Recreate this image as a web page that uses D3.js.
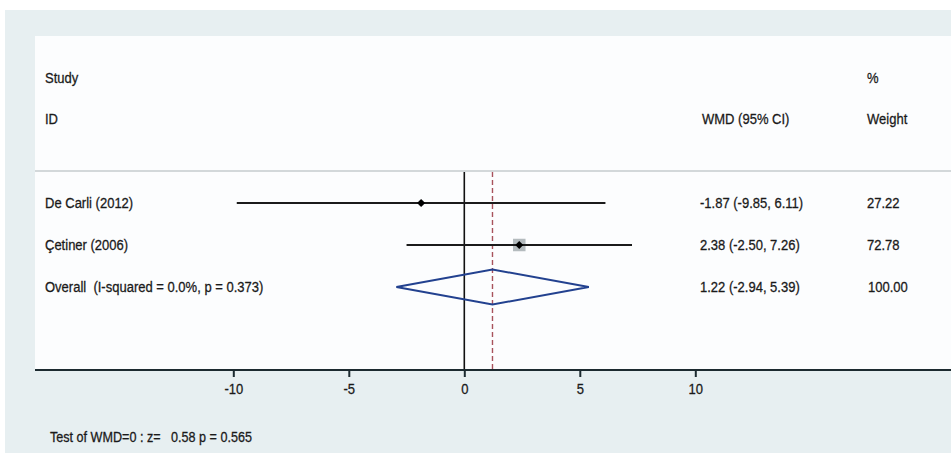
<!DOCTYPE html>
<html>
<head>
<meta charset="utf-8">
<script src="https://cdn.jsdelivr.net/npm/d3@7/dist/d3.min.js"></script>
<style>
  html, body { margin: 0; padding: 0; background: #ffffff; }
  svg { display: block; }
  text { font-family: "Liberation Sans", Arial, sans-serif; fill: #1a1a1a; stroke: #1a1a1a; stroke-width: 0.3px; white-space: pre; }
</style>
</head>
<body>
<svg id="chart" width="951" height="453"></svg>
<script>
// Studies in the meta-analysis
const studies = ["De Carli (2012)", "Çetiner (2006)"];
const wmd = [-1.87, 2.38];
const ciLow = [-9.85, -2.50];
const ciHigh = [6.11, 7.26];
const weights = [27.22, 72.78];

// Pooled estimate
const overallLabel = "Overall  (I-squared = 0.0%, p = 0.373)";
const overallWmd = 1.22;
const overallLow = -2.94;
const overallHigh = 5.39;
const overallWeight = 100.00;

const tickValues = [-10, -5, 0, 5, 10];
const testText = "Test of WMD=0 : z=   0.58 p = 0.565";

const W = 951, H = 453;
const svg = d3.select("#chart");

const fs = 15.5;
const squeeze = 0.84;   // condensed type: horizontal scale applied to every label

// Text helper: condensed label anchored at (x, y), vertically centred
function label(parent, x, y, str, size = fs) {
  return parent.append("text")
    .attr("transform", `translate(${x},${y}) scale(${squeeze},1)`)
    .attr("dy", "0.35em")
    .attr("font-size", size)
    .text(str);
}

// Frame: grey-blue backdrop and white plotting panel
svg.append("rect").attr("x", 5).attr("y", 10).attr("width", W - 5).attr("height", H - 10).attr("fill", "#e7eff1");
svg.append("rect").attr("x", 35).attr("y", 36).attr("width", W - 35).attr("height", 370 - 36).attr("fill", "#fcfdfe");
svg.append("line").attr("x1", 35).attr("x2", W).attr("y1", 171).attr("y2", 171)
  .attr("stroke", "#d3d8da").attr("stroke-width", 2);

const x = d3.scaleLinear().domain([-10, 10]).range([233.3, 695.3]);

const rowIds = ["s0", "s1", "overall"];
const y = d3.scalePoint().domain(rowIds).range([203, 287]);

const colLabel = 45, colEst = 700, colWeight = 867;

// Column headers
const header = svg.append("g");
label(header, colLabel, 78, "Study");
label(header, colLabel, 119, "ID");
label(header, colWeight, 78, "%");
label(header, colEst + 2, 119, "WMD (95% CI)");
label(header, colWeight, 119, "Weight");

const yTop = 172, yAxis = 370;

// Line of no effect and pooled-estimate reference
svg.append("line").attr("x1", x(0)).attr("x2", x(0)).attr("y1", yTop).attr("y2", yAxis)
  .attr("stroke", "#111").attr("stroke-width", 1.6);
svg.append("line").attr("x1", x(overallWmd)).attr("x2", x(overallWmd)).attr("y1", yTop).attr("y2", yAxis)
  .attr("stroke", "#a8525c").attr("stroke-width", 1.4).attr("stroke-dasharray", "5,3");

// Two decimals with a plain hyphen for negatives
const fmt = v => d3.format(".2f")(v).replace("\u2212", "-");
const rows = studies.map((s, i) => ({ id: "s" + i, name: s, est: wmd[i], lo: ciLow[i], hi: ciHigh[i], w: weights[i] }));
const maxW = d3.max(weights);
const boxSide = d3.scaleLinear().domain([0, maxW]).range([0, 12.5]);

const g = svg.append("g");
rows.forEach(r => {
  const cy = y(r.id);
  g.append("rect")
    .attr("x", x(r.est) - boxSide(r.w) / 2).attr("y", cy - boxSide(r.w) / 2)
    .attr("width", boxSide(r.w)).attr("height", boxSide(r.w))
    .attr("fill", "#b4bbbe");
  g.append("line").attr("x1", x(r.lo)).attr("x2", x(r.hi)).attr("y1", cy).attr("y2", cy)
    .attr("stroke", "#1b1b1b").attr("stroke-width", 2);
  const d = 4;
  g.append("path")
    .attr("d", `M${x(r.est)},${cy - d}L${x(r.est) + d},${cy}L${x(r.est)},${cy + d}L${x(r.est) - d},${cy}Z`)
    .attr("fill", "#000");
  label(g, colLabel, cy, r.name);
  label(g, colEst, cy, `${fmt(r.est)} (${fmt(r.lo)}, ${fmt(r.hi)})`);
  label(g, colWeight, cy, fmt(r.w));
});

// Pooled diamond
const oy = y("overall"), hh = 17.5;
g.append("path")
  .attr("d", `M${x(overallLow)},${oy}L${x(overallWmd)},${oy - hh}L${x(overallHigh)},${oy}L${x(overallWmd)},${oy + hh}Z`)
  .attr("fill", "none").attr("stroke", "#22418f").attr("stroke-width", 2);
label(g, colLabel, oy, overallLabel);
label(g, colEst, oy, `${fmt(overallWmd)} (${fmt(overallLow)}, ${fmt(overallHigh)})`);
label(g, colWeight + 1, oy, fmt(overallWeight));

// Horizontal axis
svg.append("line").attr("x1", 35).attr("x2", W).attr("y1", yAxis).attr("y2", yAxis)
  .attr("stroke", "#1c2a30").attr("stroke-width", 2);
const axis = svg.append("g").attr("transform", `translate(0,${yAxis})`)
  .call(d3.axisBottom(x).tickValues(tickValues).tickSize(7).tickPadding(6)
    .tickFormat(v => d3.format("d")(v).replace("\u2212", "-")));
axis.select(".domain").remove();
axis.selectAll(".tick line").attr("stroke", "#1c2a30").attr("stroke-width", 2);
axis.selectAll(".tick text").attr("font-size", fs).attr("fill", "#1a1a1a")
  .attr("font-family", "'Liberation Sans', Arial, sans-serif")
  .attr("transform", `scale(${squeeze},1)`);

label(svg, 50, 437, testText, fs - 0.5);
</script>
</body>
</html>
